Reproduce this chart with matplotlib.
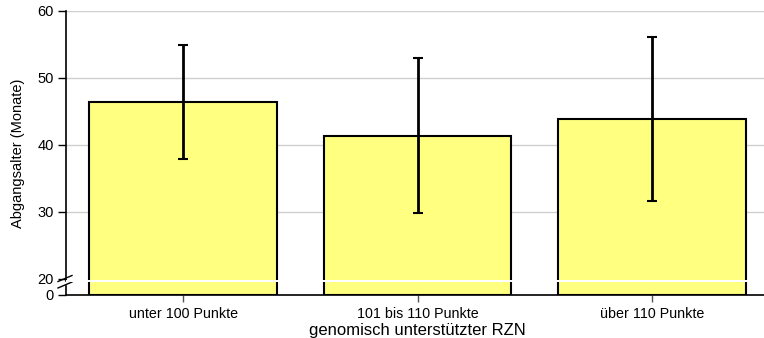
import numpy as np
import matplotlib
matplotlib.use("Agg")
import matplotlib.pyplot as plt
from matplotlib.lines import Line2D

plt.rcParams['font.family'] = ['Liberation Sans', 'DejaVu Sans']

# Data
groups = ["unter 100 Punkte", "101 bis 110 Punkte", "über 110 Punkte"]
mean_age = [46.4, 41.4, 43.9]
sd_age = [8.5, 11.6, 12.2]

# Broken y axis: 0..20 squeezed into a short stub below 20
BASE = 17.6
SLOPE = 0.12

def fwd(y):
    y = np.asarray(y, dtype=float)
    return np.where(y >= 20, y, BASE + y * SLOPE)

def inv(v):
    v = np.asarray(v, dtype=float)
    return np.where(v >= 20, v, (v - BASE) / SLOPE)

fig = plt.figure(figsize=(7.64, 3.38), dpi=100)
ax = fig.add_axes([66 / 764, 1 - 295 / 338, 703 / 764, (295 - 11) / 338])
ax.set_yscale('function', functions=(fwd, inv))

x = np.arange(len(groups))
ax.bar(x, mean_age, width=0.8, color='#ffff80', edgecolor='black', linewidth=1.5, zorder=2)
ax.errorbar(x, mean_age, yerr=sd_age, fmt='none', ecolor='black', elinewidth=2,
            capsize=3.5, capthick=1.5, zorder=4)

ax.set_xlim(-0.5, len(groups) - 0.5)
ax.set_ylim(0, 60)
ax.set_yticks([0, 20, 30, 40, 50, 60])
ax.set_xticks(x)
ax.set_xticklabels(groups, fontsize=10.3)
ax.tick_params(axis='y', labelsize=10.5, length=6, width=1, color='black', pad=3)
ax.tick_params(axis='x', length=5, width=1, color='#555555', pad=4)

for g in [30, 40, 50, 60]:
    ax.axhline(g, color='#d0d0d0', linewidth=1, zorder=0)

# white gap through the bars at the axis break
band_lo, band_hi = inv(19.55), inv(19.9)
ax.axhspan(float(band_lo), float(band_hi), color='white', zorder=3, linewidth=0)

for side in ['top', 'right', 'left']:
    ax.spines[side].set_visible(False)
ax.spines['bottom'].set_linewidth(1.2)

# left axis line drawn in two pieces with break marks between them
trans = ax.get_yaxis_transform()
ax.add_line(Line2D([0, 0], [60, float(inv(19.75))], transform=trans, color='black',
                   linewidth=1.2, clip_on=False))
ax.add_line(Line2D([0, 0], [float(inv(19.0)), 0], transform=trans, color='black',
                   linewidth=1.2, clip_on=False))
ax_h = fig.get_size_inches()[1] * fig.dpi * ax.get_position().height
ax_w = fig.get_size_inches()[0] * fig.dpi * ax.get_position().width
for yc in [278.5, 285.0]:
    yc_ax = (295 - yc) / ax_h
    ax.add_line(Line2D([-8 / ax_w, 6 / ax_w], [yc_ax - 3 / ax_h, yc_ax + 3 / ax_h],
                       transform=ax.transAxes, color='black', linewidth=1, clip_on=False))

ax.set_ylabel("Abgangsalter (Monate)", fontsize=10.5, labelpad=9)
ax.set_xlabel("genomisch unterstützter RZN", fontsize=12, labelpad=1)

fig.savefig("out.png", dpi=100)
